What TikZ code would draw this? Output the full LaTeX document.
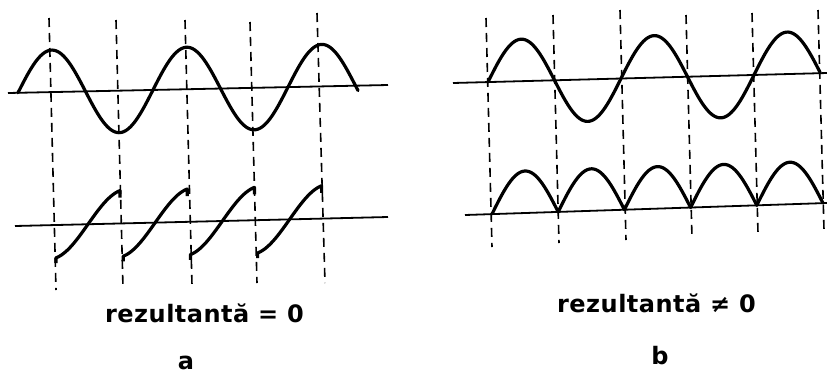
\documentclass[tikz,border=0pt]{standalone}
\usepackage{fontspec}
\newfontfamily\labfont{DejaVu Sans}[LetterSpace=2]
\begin{document}
\begin{tikzpicture}[x=1pt,y=-1pt,
  curve/.style={line width=3.2pt,line join=round,line cap=round},
  axisline/.style={line width=1.8pt},
  guide/.style={line width=1.6pt,dash pattern=on 9pt off 6pt},
  lab/.style={font=\labfont\bfseries\fontsize{24}{26}\selectfont,inner sep=0pt},
  declare function={
    axLa(\t)=93-8/380*(\t-8);
    axLb(\t)=226-9/373*(\t-15);
    axRa(\t)=83-10/374*(\t-453);
    axRb(\t)=215-12/362*(\t-465);
  }]
\useasboundingbox (0,0) rectangle (827,376);
% ---------- panel a ----------
\foreach \xa/\ya/\xb/\yb in {49/18/56/290,116/20/123/288,185/20/192/285,250/22/257/283,317/13/325/283}
  \draw[guide] (\xa,\ya) -- (\xb,\yb);
\draw[axisline] (8,93) -- (388,85);
\draw[curve] plot[domain=18:358,samples=200] (\x,{axLa(\x)-42*sin(2.6667*(\x-18))});
\draw[axisline] (15,226) -- (388,217);
\foreach \k in {0,...,3}{
  \pgfmathsetmacro\c{88+67.2*\k}
  \pgfmathsetmacro\ys{axLb(\c-32)+33+5}
  \draw[curve,line cap=butt] (\c-32,\ys) -- plot[domain=-75:75,samples=60] ({\c+32/75*\x},{axLb(\c+32/75*\x)-34*sin(\x)}) -- ++(0,7);
}
\node[lab,anchor=base west] (resa) at (105,322) {rezultantă = 0};
\node[lab,anchor=base] (capa) at (186,369) {a};
% ---------- panel b ----------
\foreach \xa/\ya/\xb/\yb in {486/18/492/247,553/15/559/243,620/10/626/240,686/15/692/238,752/13/758/233,818/10/824/230}
  \draw[guide] (\xa,\ya) -- (\xb,\yb);
\draw[axisline] (453,83) -- (827,73);
\draw[curve] plot[domain=488:820,samples=200] (\x,{axRa(\x)-42*sin(2.7068*(\x-488))});
\draw[axisline] (465,215) -- (827,203);
\foreach \k in {0,...,4}{
  \pgfmathsetmacro\a{492+66.2*\k}
  \pgfmathsetmacro\b{\a+66.2}
  \draw[curve] plot[domain=\a:\b,samples=50] (\x,{axRb(\x)-42*sin(2.719*(\x-\a))});
}
\node[lab,anchor=base west] (resb) at (557,312) {rezultantă ≠ 0};
\node[lab,anchor=base] (capb) at (660,364) {b};
\end{tikzpicture}
\end{document}
